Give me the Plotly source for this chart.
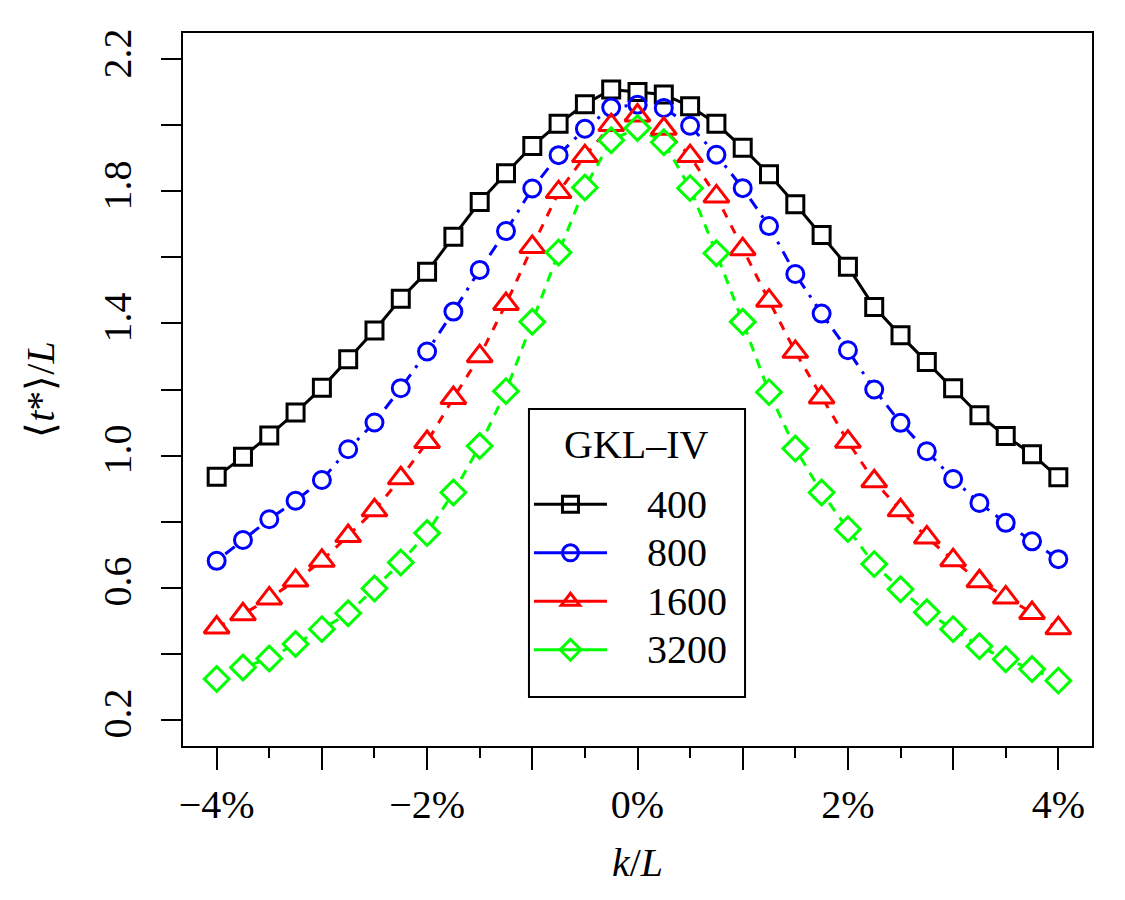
import plotly.graph_objects as go

# ---- data (k/L in percent) ----
k_pct = [-4.0, -3.75, -3.5, -3.25, -3.0, -2.75, -2.5, -2.25, -2.0, -1.75, -1.5,
         -1.25, -1.0, -0.75, -0.5, -0.25, 0.0, 0.25, 0.5, 0.75, 1.0, 1.25, 1.5,
         1.75, 2.0, 2.25, 2.5, 2.75, 3.0, 3.25, 3.5, 3.75, 4.0]

t_400 = [0.936, 0.996, 1.061, 1.130, 1.205, 1.292, 1.379, 1.475, 1.557, 1.663, 1.768,
         1.855, 1.938, 2.005, 2.064, 2.109, 2.101, 2.094, 2.058, 2.005, 1.932, 1.852,
         1.761, 1.668, 1.572, 1.450, 1.364, 1.283, 1.204, 1.122, 1.059, 1.004, 0.934]

t_800 = [0.681, 0.744, 0.807, 0.863, 0.926, 1.019, 1.100, 1.204, 1.315, 1.436, 1.562,
         1.680, 1.809, 1.910, 1.990, 2.054, 2.063, 2.053, 1.999, 1.911, 1.810, 1.695,
         1.550, 1.430, 1.319, 1.200, 1.099, 1.013, 0.929, 0.856, 0.796, 0.740, 0.686]

t_1600 = [0.479, 0.519, 0.567, 0.621, 0.681, 0.756, 0.834, 0.931, 1.041, 1.174, 1.301,
          1.459, 1.632, 1.798, 1.907, 2.001, 2.030, 1.990, 1.907, 1.785, 1.625, 1.469,
          1.314, 1.176, 1.042, 0.922, 0.834, 0.752, 0.683, 0.619, 0.570, 0.523, 0.477]

t_3200 = [0.323, 0.358, 0.385, 0.429, 0.474, 0.522, 0.597, 0.676, 0.765, 0.888, 1.029,
          1.195, 1.405, 1.615, 1.812, 1.955, 1.992, 1.949, 1.810, 1.613, 1.405, 1.192,
          1.021, 0.888, 0.777, 0.671, 0.595, 0.525, 0.474, 0.422, 0.383, 0.353, 0.318]

series_names = ["400", "800", "1600", "3200"]
series_values = [t_400, t_800, t_1600, t_3200]
legend_title = "GKL\u2013IV"

x_tick_vals = [-4, -3, -2, -1, 0, 1, 2, 3, 4]
x_tick_text = ["\u22124%", "", "\u22122%", "", "0%", "", "2%", "", "4%"]
y_tick_vals = [0.2, 0.4, 0.6, 0.8, 1.0, 1.2, 1.4, 1.6, 1.8, 2.0, 2.2]
y_tick_text = ["0.2", "", "0.6", "", "1.0", "", "1.4", "", "1.8", "", "2.2"]

# ---- styles ----
colors = ["#000000", "#0000FF", "#FF0000", "#00FF00"]
symbols = ["square", "circle", "triangle-up", "diamond"]
sizes = [17, 17, 22, 19]
dashes = ["solid", "3px,8px,12px,8px", "9px,9px", "10px,8px"]
FONT = "Liberation Serif, Times New Roman, serif"
FS = 40
LEG_FS = 35  # controls legend row spacing; text itself drawn at FS
NB = "\u00a0"

# legend frame / title placement (paper coordinates)
LEG_X0, LEG_X1, LEG_Y0, LEG_Y1 = 0.3806, 0.6183, 0.0687, 0.4727
LEG_TITLE_X, LEG_TITLE_Y = 0.4994, 0.4222
LEG_ITEMS_X, LEG_ITEMS_Y = 0.3806, 0.380

fig = go.Figure()

# layer 1: connecting lines
for vals, c, d in zip(series_values, colors, dashes):
    fig.add_trace(go.Scatter(x=k_pct, y=vals, mode="lines",
                             line=dict(color=c, width=3, dash=d),
                             showlegend=False, hoverinfo="skip"))
# layer 2: white fills that hide the lines inside markers
for vals, s, sz in zip(series_values, symbols, sizes):
    fig.add_trace(go.Scatter(x=k_pct, y=vals, mode="markers",
                             marker=dict(symbol=s, size=sz, color="white",
                                         line=dict(width=0)),
                             showlegend=False, hoverinfo="skip"))
# layer 3: open marker outlines
for name, vals, c, s, sz in zip(series_names, series_values, colors, symbols, sizes):
    fig.add_trace(go.Scatter(x=k_pct, y=vals, mode="markers", name=name,
                             marker=dict(symbol=s, size=sz, color="rgba(0,0,0,0)",
                                         line=dict(color=c, width=3)),
                             showlegend=False))
# legend entries (solid line through open symbol)
for name, c, s in zip(series_names, colors, symbols):
    fig.add_trace(go.Scatter(x=[None], y=[None], mode="lines+markers",
                             name=NB * 4 + "<span style='font-size:%dpx'>%s</span>" % (FS, name),
                             line=dict(color=c, width=3),
                             marker=dict(symbol=s, size=17, color="rgba(0,0,0,0)",
                                         line=dict(color=c, width=3)),
                             showlegend=True))

fig.add_shape(type="rect", xref="paper", yref="paper",
              x0=LEG_X0, x1=LEG_X1, y0=LEG_Y0, y1=LEG_Y1,
              line=dict(color="black", width=2), fillcolor="white", layer="above")
fig.add_annotation(text=legend_title, xref="paper", yref="paper",
                   x=LEG_TITLE_X, y=LEG_TITLE_Y, xanchor="center", yanchor="middle",
                   showarrow=False, font=dict(family=FONT, size=FS, color="black"))

fig.update_layout(
    width=1125, height=900,
    margin=dict(l=183, r=33, t=33, b=154),
    paper_bgcolor="white", plot_bgcolor="white",
    font=dict(family=FONT, size=FS, color="black"),
    showlegend=True,
    legend=dict(
        x=LEG_ITEMS_X, y=LEG_ITEMS_Y, xanchor="left", yanchor="top",
        borderwidth=0, bgcolor="rgba(0,0,0,0)",
        font=dict(size=LEG_FS), tracegroupgap=0, itemwidth=73,
    ),
    xaxis=dict(
        range=[-4.32, 4.32], showgrid=False, zeroline=False,
        showline=True, linecolor="black", linewidth=2, mirror=True,
        tickmode="array", tickvals=x_tick_vals, ticktext=x_tick_text,
        ticks="outside", ticklen=22, tickwidth=2, tickcolor="black",
        minor=dict(dtick=0.5, ticks="outside", ticklen=10, tickwidth=2,
                   tickcolor="black", showgrid=False),
        tickfont=dict(size=FS),
        title=dict(text="<i>k</i>/<i>L</i>", font=dict(size=FS), standoff=22),
    ),
    yaxis=dict(
        range=[0.12, 2.28], showgrid=False, zeroline=False,
        showline=True, linecolor="black", linewidth=2, mirror=True,
        tickmode="array", tickvals=y_tick_vals, ticktext=y_tick_text,
        ticks="outside", ticklen=20, tickwidth=2, tickcolor="black",
        tickangle=-90, tickfont=dict(size=FS), ticklabelstandoff=14,
        title=dict(text="\u27e8<i>t</i>*\u27e9/<i>L</i>", font=dict(size=FS), standoff=28),
    ),
)

fig.write_html("out.html")
